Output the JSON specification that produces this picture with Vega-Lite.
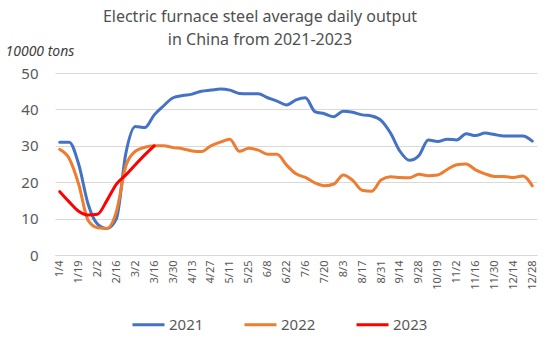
{
  "$schema": "https://vega.github.io/schema/vega-lite/v6.json",
  "width": 482,
  "height": 182,
  "autosize": {"type": "none"},
  "padding": {"left": 55, "top": 73, "right": 18, "bottom": 87},
  "background": "white",
  "title": {
    "text": ["Electric furnace steel average daily output", "in China from 2021-2023"],
    "fontSize": 16,
    "font": "Noto Sans",
    "fontWeight": "normal",
    "color": "#505050",
    "anchor": "middle",
    "dx": -36,
    "dy": 28,
    "offset": 24,
    "lineHeight": 23
  },
  "config": {
    "view": {"stroke": null},
    "axis": {"labelFont": "Noto Sans", "titleFont": "Noto Sans"},
    "legend": {"labelFont": "Noto Sans"}
  },
  "data": {
    "values": [
      {"d":"1/4","s":"2021","v":31},{"d":"1/12","s":"2021","v":31},{"d":"1/19","s":"2021","v":25},{"d":"1/26","s":"2021","v":14},{"d":"2/2","s":"2021","v":8.5},{"d":"2/9","s":"2021","v":7.3},{"d":"2/16","s":"2021","v":10},{"d":"2/23","s":"2021","v":28},{"d":"3/2","s":"2021","v":35.3},{"d":"3/9","s":"2021","v":35},{"d":"3/16","s":"2021","v":38.5},{"d":"3/23","s":"2021","v":41},{"d":"3/30","s":"2021","v":43.2},{"d":"4/6","s":"2021","v":43.8},{"d":"4/13","s":"2021","v":44.2},{"d":"4/20","s":"2021","v":45},{"d":"4/27","s":"2021","v":45.3},{"d":"5/4","s":"2021","v":45.6},{"d":"5/11","s":"2021","v":45.3},{"d":"5/18","s":"2021","v":44.4},{"d":"5/25","s":"2021","v":44.3},{"d":"6/1","s":"2021","v":44.3},{"d":"6/8","s":"2021","v":43.2},{"d":"6/15","s":"2021","v":42.3},{"d":"6/22","s":"2021","v":41.2},{"d":"6/29","s":"2021","v":42.6},{"d":"7/6","s":"2021","v":43.2},{"d":"7/13","s":"2021","v":39.4},{"d":"7/20","s":"2021","v":38.8},{"d":"7/27","s":"2021","v":38},{"d":"8/3","s":"2021","v":39.5},{"d":"8/10","s":"2021","v":39.2},{"d":"8/17","s":"2021","v":38.5},{"d":"8/24","s":"2021","v":38.2},{"d":"8/31","s":"2021","v":37},{"d":"9/7","s":"2021","v":33.5},{"d":"9/14","s":"2021","v":28.5},{"d":"9/21","s":"2021","v":26},{"d":"9/28","s":"2021","v":27.3},{"d":"10/12","s":"2021","v":31.6},{"d":"10/19","s":"2021","v":31.2},{"d":"10/26","s":"2021","v":31.8},{"d":"11/2","s":"2021","v":31.6},{"d":"11/9","s":"2021","v":33.3},{"d":"11/16","s":"2021","v":32.8},{"d":"11/23","s":"2021","v":33.5},{"d":"11/30","s":"2021","v":33.1},{"d":"12/7","s":"2021","v":32.7},{"d":"12/14","s":"2021","v":32.7},{"d":"12/21","s":"2021","v":32.7},{"d":"12/28","s":"2021","v":31.3},
      {"d":"1/4","s":"2022","v":29},{"d":"1/12","s":"2022","v":26.5},{"d":"1/19","s":"2022","v":19.5},{"d":"1/26","s":"2022","v":9.5},{"d":"2/2","s":"2022","v":7.5},{"d":"2/9","s":"2022","v":7.3},{"d":"2/16","s":"2022","v":12},{"d":"2/23","s":"2022","v":24.5},{"d":"3/2","s":"2022","v":28.5},{"d":"3/9","s":"2022","v":29.6},{"d":"3/16","s":"2022","v":30},{"d":"3/23","s":"2022","v":30},{"d":"3/30","s":"2022","v":29.5},{"d":"4/6","s":"2022","v":29.2},{"d":"4/13","s":"2022","v":28.6},{"d":"4/20","s":"2022","v":28.4},{"d":"4/27","s":"2022","v":30},{"d":"5/4","s":"2022","v":31},{"d":"5/11","s":"2022","v":31.8},{"d":"5/18","s":"2022","v":28.5},{"d":"5/25","s":"2022","v":29.3},{"d":"6/1","s":"2022","v":28.8},{"d":"6/8","s":"2022","v":27.7},{"d":"6/15","s":"2022","v":27.7},{"d":"6/22","s":"2022","v":24.7},{"d":"6/29","s":"2022","v":22.3},{"d":"7/6","s":"2022","v":21.3},{"d":"7/13","s":"2022","v":19.8},{"d":"7/20","s":"2022","v":19},{"d":"7/27","s":"2022","v":19.5},{"d":"8/3","s":"2022","v":22},{"d":"8/10","s":"2022","v":20.5},{"d":"8/17","s":"2022","v":17.8},{"d":"8/24","s":"2022","v":17.5},{"d":"8/31","s":"2022","v":20.6},{"d":"9/7","s":"2022","v":21.5},{"d":"9/14","s":"2022","v":21.3},{"d":"9/21","s":"2022","v":21.2},{"d":"9/28","s":"2022","v":22.2},{"d":"10/12","s":"2022","v":21.8},{"d":"10/19","s":"2022","v":22},{"d":"10/26","s":"2022","v":23.5},{"d":"11/2","s":"2022","v":24.8},{"d":"11/9","s":"2022","v":25},{"d":"11/16","s":"2022","v":23.4},{"d":"11/23","s":"2022","v":22.3},{"d":"11/30","s":"2022","v":21.6},{"d":"12/7","s":"2022","v":21.6},{"d":"12/14","s":"2022","v":21.3},{"d":"12/21","s":"2022","v":21.7},{"d":"12/28","s":"2022","v":19},
      {"d":"1/4","s":"2023","v":17.4},{"d":"1/12","s":"2023","v":14.6},{"d":"1/19","s":"2023","v":12},{"d":"1/26","s":"2023","v":11},{"d":"2/2","s":"2023","v":11.2},{"d":"2/9","s":"2023","v":15},{"d":"2/16","s":"2023","v":19.5},{"d":"2/23","s":"2023","v":22},{"d":"3/2","s":"2023","v":24.8},{"d":"3/9","s":"2023","v":27.5},{"d":"3/16","s":"2023","v":30}
    ]
  },
  "mark": {"type": "line", "interpolate": "monotone", "strokeWidth": 3, "strokeCap": "round"},
  "encoding": {
    "x": {
      "field": "d",
      "type": "ordinal",
      "sort": null,
      "scale": {"type": "point", "padding": 0.5},
      "axis": {
        "title": null,
        "values": ["1/4","1/19","2/2","2/16","3/2","3/16","3/30","4/13","4/27","5/11","5/25","6/8","6/22","7/6","7/20","8/3","8/17","8/31","9/14","9/28","10/19","11/2","11/16","11/30","12/14","12/28"],
        "labelAngle": -90,
        "labelFontSize": 11,
        "labelColor": "#595959",
        "labelPadding": 5,
        "ticks": false,
        "domainColor": "#D9D9D9",
        "domainWidth": 1,
        "grid": false
      }
    },
    "y": {
      "field": "v",
      "type": "quantitative",
      "scale": {"domain": [0, 50]},
      "axis": {
        "values": [0, 10, 20, 30, 40, 50],
        "title": "10000 tons",
        "titleAngle": 0,
        "titleAlign": "left",
        "titleBaseline": "alphabetic",
        "titleX": -50,
        "titleY": -18,
        "titleFontSize": 14,
        "titleFontStyle": "italic",
        "titleFontWeight": "normal",
        "titleColor": "#404040",
        "labelFontSize": 15,
        "labelColor": "#595959",
        "labelPadding": 17,
        "ticks": false,
        "domain": false,
        "gridColor": "#D9D9D9",
        "gridWidth": 1
      }
    },
    "color": {
      "field": "s",
      "type": "nominal",
      "scale": {"domain": ["2021", "2022", "2023"], "range": ["#4472C4", "#ED7D31", "#FF0000"]},
      "legend": {
        "title": null,
        "orient": "none",
        "direction": "horizontal",
        "legendX": 76,
        "legendY": 234,
        "symbolType": "stroke",
        "symbolSize": 1024,
        "symbolStrokeWidth": 3,
        "labelFontSize": 15,
        "labelColor": "#595959",
        "labelOffset": 3,
        "columnPadding": 34
      }
    }
  }
}
